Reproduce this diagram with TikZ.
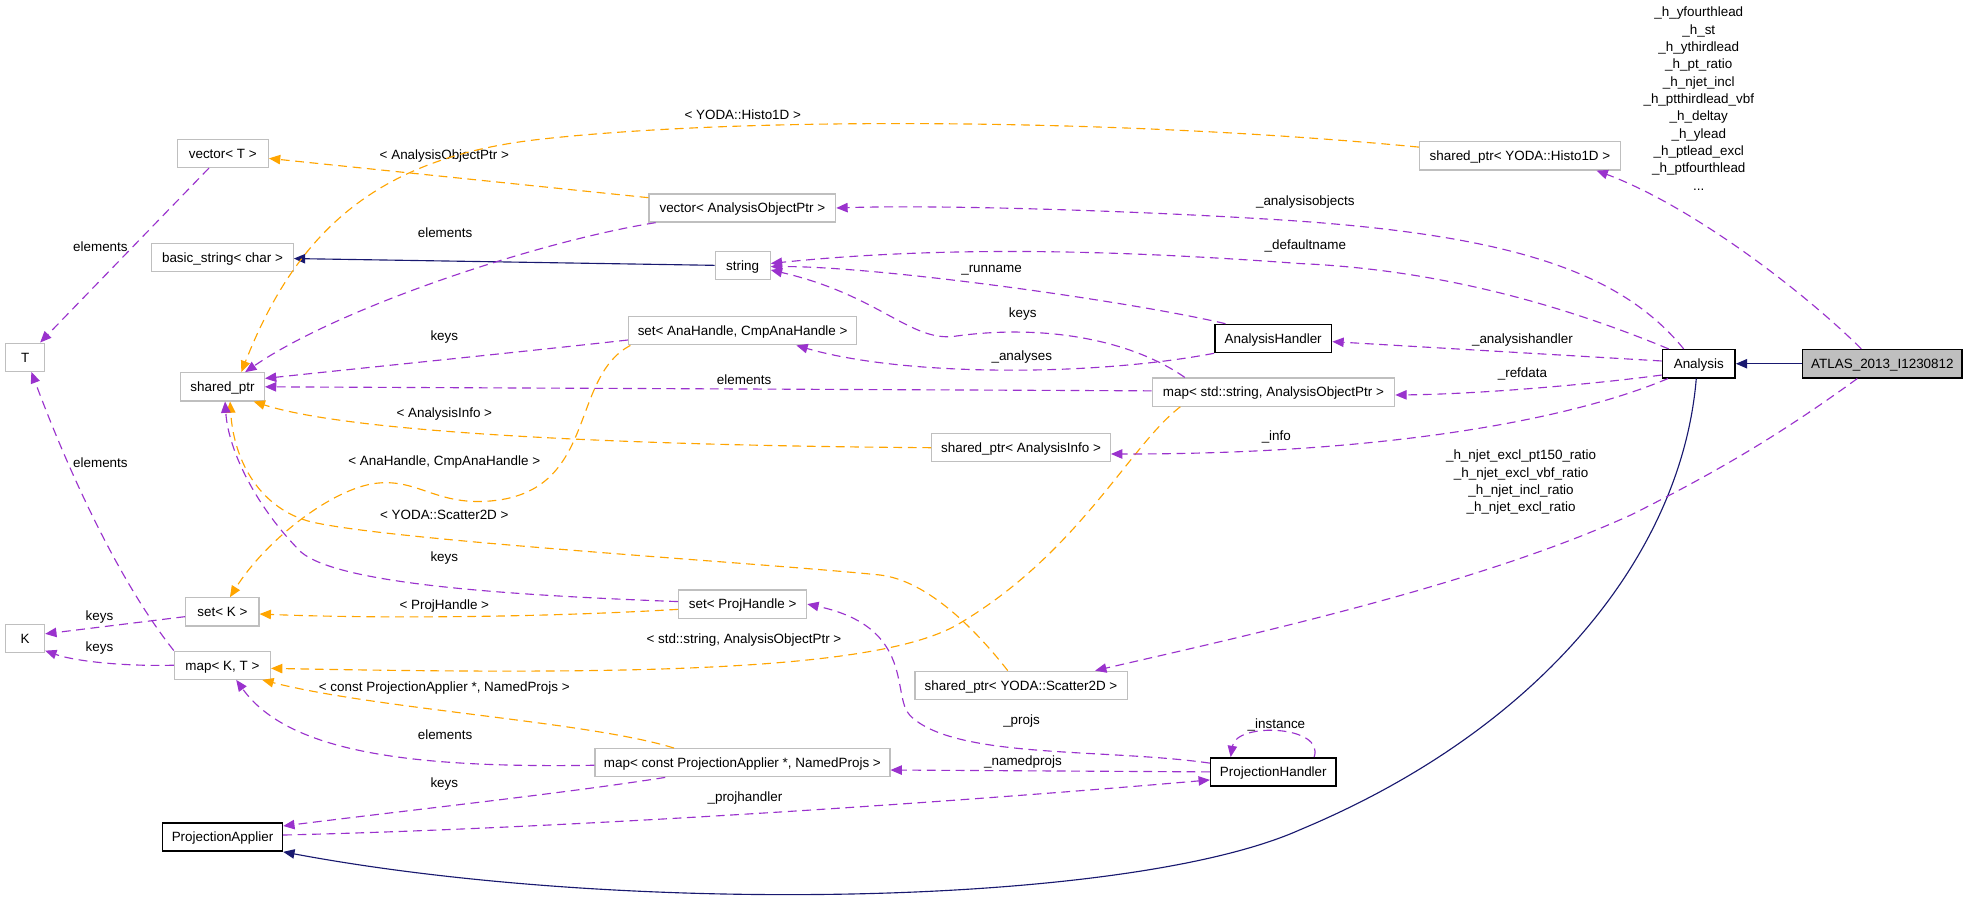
\documentclass[tikz,border=0pt]{standalone}
\usepackage{fontspec}
\setmainfont{Liberation Sans}
\usetikzlibrary{arrows.meta}
\definecolor{purp}{HTML}{9A32CD}
\definecolor{orng}{HTML}{FFA500}
\definecolor{navyc}{HTML}{191970}
\definecolor{boxgray}{HTML}{BFBFBF}
\newcommand\nodefont{\fontsize{10.7}{13.8}\selectfont}
\begin{document}
\begin{tikzpicture}[x=1pt,y=-1pt,
  cbox/.style={draw=boxgray, line width=1pt, fill=white, minimum height=22.4pt, inner xsep=1pt, inner ysep=0pt, text height=7.7pt, text depth=0pt, font=\nodefont},
  kbox/.style={cbox, draw=black, line width=1.2pt},
  pdash/.style={draw=purp, line width=0.9pt, dash pattern=on 7pt off 4.5pt, -{Triangle[length=9pt,width=7.5pt]}},
  odash/.style={draw=orng, line width=0.9pt, dash pattern=on 7pt off 4.5pt, -{Triangle[length=9pt,width=7.5pt]}},
  inh/.style={draw=navyc, line width=0.9pt, -{Triangle[length=9pt,width=7.5pt]}},
  lbl/.style={font=\nodefont, inner sep=0pt, text height=7.7pt, text depth=0pt},
  mlbl/.style={font=\nodefont, inner sep=0pt, align=center, anchor=north}
]
\fill[white] (0,0) rectangle (1568,721);
\useasboundingbox (0,0) rectangle (1568,721);

% nodes
\node[cbox, minimum width=72.6pt] (vT) at (177.5,122.2) {vector< T >};
\node[cbox, minimum width=112.7pt] (bstr) at (177.3,205) {basic\_string< char >};
\node[cbox, minimum width=31pt] (T) at (20,284.6) {T};
\node[cbox, minimum width=66.6pt] (sp) at (177.3,308.2) {shared\_ptr};
\node[cbox, minimum width=58.3pt] (setK) at (177.2,487.5) {set< K >};
\node[cbox, minimum width=31pt] (K) at (20,508.7) {K};
\node[cbox, minimum width=76.5pt] (mapKT) at (177.2,530) {map< K, T >};
\node[kbox, minimum width=95.5pt] (PA) at (177.3,666.9) {ProjectionApplier};
\node[cbox, minimum width=148.7pt] (vAOP) at (591.5,165.7) {vector< AnalysisObjectPtr >};
\node[cbox, minimum width=43.8pt] (str) at (591.7,211.4) {string};
\node[cbox, minimum width=181.8pt] (setAH) at (591.7,263.5) {set< AnaHandle, CmpAnaHandle >};
\node[cbox, minimum width=142.3pt] (spAI) at (813.5,356.7) {shared\_ptr< AnalysisInfo >};
\node[kbox, minimum width=93.1pt] (AH) at (1014.4,269.7) {AnalysisHandler};
\node[cbox, minimum width=193.2pt] (mapSA) at (1014.6,312.4) {map< std::string, AnalysisObjectPtr >};
\node[cbox, minimum width=102pt] (setPH) at (591.7,481.3) {set< ProjHandle >};
\node[cbox, minimum width=169.1pt] (spS) at (813.5,546) {shared\_ptr< YODA::Scatter2D >};
\node[cbox, minimum width=235pt] (mapPA) at (591.5,607.7) {map< const ProjectionApplier *, NamedProjs >};
\node[kbox, minimum width=99.9pt] (PH) at (1014.5,615) {ProjectionHandler};
\node[cbox, minimum width=160.1pt] (spH) at (1211,124.2) {shared\_ptr< YODA::Histo1D >};
\node[kbox, minimum width=57.9pt] (An) at (1353.5,289.8) {Analysis};
\node[kbox, fill=boxgray, minimum width=127pt] (AT) at (1499.8,289.8) {ATLAS\_2013\_I1230812};

% inheritance
\draw[inh] (AT.west) -- (An.east);
\draw[inh] ([xshift=-2pt]An.south) .. controls (1340,440) and (1230,580) .. (1036,661)
  .. controls (900,722) and (500,730) .. (PA.south east);
\draw[inh] (str.west) -- ([yshift=-1pt]bstr.east);

% left part
\draw[pdash] ([xshift=-11pt]vT.south) -- ([xshift=12pt]T.north);
\node[lbl] (l1) at (80,196.5) {elements};
\draw[pdash] (mapKT.north west) .. controls (100,470) and (60,390) .. ([xshift=5pt]T.south);
\node[lbl] (l2) at (80,369) {elements};
\draw[odash] ([yshift=-3.5pt]vAOP.north west) -- ([yshift=-4pt]vT.east);
\node[lbl] (l3) at (354,123.5) {< AnalysisObjectPtr >};
\draw[odash] ([yshift=7pt]spH.west) .. controls (900,95) and (600,92) .. (430,111)
  .. controls (305,125) and (238,180) .. ([xshift=15pt]sp.north);
\node[lbl] (l4) at (591.8,91.6) {< YODA::Histo1D >};
\draw[pdash] ([xshift=5.7pt]vAOP.south west) .. controls (430,192) and (270,245) .. ([xshift=18pt]sp.north);
\node[lbl] (l5) at (354.6,185.1) {elements};
\draw[pdash] ([yshift=-7.4pt]setAH.west) .. controls (400,282) and (300,292) .. ([yshift=6.7pt]sp.east);
\node[lbl] (l7) at (354,267.5) {keys};
\draw[pdash] ([yshift=1pt]mapSA.west) -- (sp.east);
\node[lbl] (l8) at (592.9,302.3) {elements};
\draw[odash] (spAI.west) .. controls (500,355) and (280,345) .. ([xshift=-9pt]sp.south east);
\node[lbl] (l9) at (354,328.8) {< AnalysisInfo >};
\draw[odash] ([xshift=2pt]setAH.south west) .. controls (455,300) and (475,385) .. (400,398)
  .. controls (350,406) and (335,381) .. (300,385)
  .. controls (265,389) and (212,430) .. ([xshift=6pt]setK.north);
\node[lbl] (l10) at (354,367) {< AnaHandle, CmpAnaHandle >};
\draw[odash] ([xshift=-10.6pt]spS.north) .. controls (780,505) and (740,462) .. (700,458)
  .. controls (600,448) and (300,430) .. (245,415)
  .. controls (205,403) and (186,365) .. ([xshift=6pt]sp.south);
\node[lbl] (l11) at (354,410.3) {< YODA::Scatter2D >};
\draw[pdash] ([yshift=2pt]setPH.west) .. controls (400,474) and (270,465) .. (240,440)
  .. controls (205,405) and (182,360) .. ([xshift=2pt]sp.south);
\node[lbl] (l12) at (354,443.5) {keys};
\draw[odash] ([yshift=-4.2pt]setPH.west) .. controls (430,492) and (300,493) .. ([yshift=-1.7pt]setK.east);
\node[lbl] (l13) at (354,481.5) {< ProjHandle >};
\draw[pdash] ([yshift=-3.8pt]setK.west) -- ([yshift=3.7pt]K.east);
\node[lbl] (l14) at (79.3,490.5) {keys};
\draw[pdash] (mapKT.west) .. controls (100,531) and (60,527) .. ([yshift=2pt]K.south east);
\node[lbl] (l15) at (79.3,515.2) {keys};
\draw[odash] ([xshift=-74.2pt]mapSA.south) .. controls (900,355) and (860,440) .. (764,497)
  .. controls (700,535) and (500,538) .. ([yshift=-2.5pt]mapKT.east);
\node[lbl] (l16) at (592.7,508.8) {< std::string, AnalysisObjectPtr >};
\draw[odash] ([xshift=-54.5pt]mapPA.north) .. controls (470,575) and (300,565) .. ([xshift=-7pt]mapKT.south east);
\node[lbl] (l17) at (354,547) {< const ProjectionApplier *, NamedProjs >};
\draw[pdash] ([yshift=-2pt]mapPA.west) .. controls (330,612) and (230,600) .. ([xshift=11pt]mapKT.south);
\node[lbl] (l18) at (354.6,585) {elements};
\draw[pdash] ([xshift=-61.5pt]mapPA.south) .. controls (450,632) and (330,645) .. ([yshift=8.8pt]PA.east);
\node[lbl] (l19) at (354,623.3) {keys};
\draw[pdash] ([yshift=1.6pt]PA.east) .. controls (450,660) and (750,640) .. ([yshift=-6.4pt]PH.west);
\node[lbl] (l20) at (593.5,634.7) {\_projhandler};
\draw[pdash] (PH.west) -- ([yshift=-5.8pt]mapPA.east);
\node[lbl] (l21) at (815,606) {\_namedprojs};
\draw[pdash] ([yshift=7pt]PH.west) .. controls (880,596) and (760,605) .. (725,570)
  .. controls (710,555) and (730,500) .. (setPH.east);
\node[lbl] (l22) at (813.9,573.1) {\_projs};
\draw[pdash] ([xshift=32.5pt]PH.north) .. controls (1056,578) and (985,575) .. ([xshift=-34pt]PH.north);
\node[lbl] (l23) at (1017,576.3) {\_instance};

% middle / right part
\draw[pdash] (AH.south west) .. controls (870,300) and (720,300) .. ([xshift=42.8pt]setAH.south);
\node[lbl] (l24) at (814.1,283.7) {\_analyses};
\draw[pdash] ([xshift=-70.6pt]mapSA.north) .. controls (900,270) and (830,258) .. (760,268)
  .. controls (725,272) and (700,235) .. ([yshift=-3.7pt]str.east);
\node[lbl] (l25) at (814.9,249.1) {keys};
\draw[pdash] ([xshift=-12pt]An.north) .. controls (1290,215) and (1200,185) .. (1000,174)
  .. controls (900,168) and (750,163) .. (vAOP.east);
\node[lbl] (l26a) at (1040,160) {\_analysisobjects};
\draw[pdash] ([xshift=-24pt]An.north) .. controls (1250,245) and (1150,215) .. (1036,210)
  .. controls (900,200) and (760,195) .. ([yshift=1.5pt]str.east);
\node[lbl] (l26b) at (1040,195) {\_defaultname};
\draw[pdash] ([xshift=-38pt]AH.north) .. controls (900,240) and (700,212) .. ([yshift=-1pt]str.east);
\node[lbl] (l26c) at (790,213) {\_runname};
\draw[pdash] ([yshift=2.2pt]An.west) -- ([yshift=-2.5pt]AH.east);
\node[lbl] (l26) at (1213,269.6) {\_analysishandler};
\draw[pdash] ([yshift=-9pt]An.west) .. controls (1270,306) and (1180,314) .. ([yshift=-2.3pt]mapSA.east);
\node[lbl] (l27) at (1213,296.7) {\_refdata};
\draw[pdash] ([xshift=5pt]An.south west) .. controls (1250,335) and (1100,362) .. ([yshift=-5pt]spAI.east);
\node[lbl] (l28) at (1016.9,347.1) {\_info};
\draw[pdash] ([xshift=-20pt]AT.south) .. controls (1420,345) and (1370,375) .. (1300,410)
  .. controls (1180,465) and (1000,505) .. ([xshift=-26pt]spS.north east);
\node[mlbl] (l29) at (1211.9,358.5) {\_h\_njet\_excl\_pt150\_ratio\\\_h\_njet\_excl\_vbf\_ratio\\\_h\_njet\_incl\_ratio\\\_h\_njet\_excl\_ratio};
\draw[pdash] ([xshift=-16.8pt]AT.north) .. controls (1440,235) and (1350,165) .. ([xshift=61pt]spH.south);
\node[mlbl] (l30) at (1353.5,5.5) {\_h\_yfourthlead\\\_h\_st\\\_h\_ythirdlead\\\_h\_pt\_ratio\\\_h\_njet\_incl\\\_h\_ptthirdlead\_vbf\\\_h\_deltay\\\_h\_ylead\\\_h\_ptlead\_excl\\\_h\_ptfourthlead\\...};
\end{tikzpicture}
\end{document}
